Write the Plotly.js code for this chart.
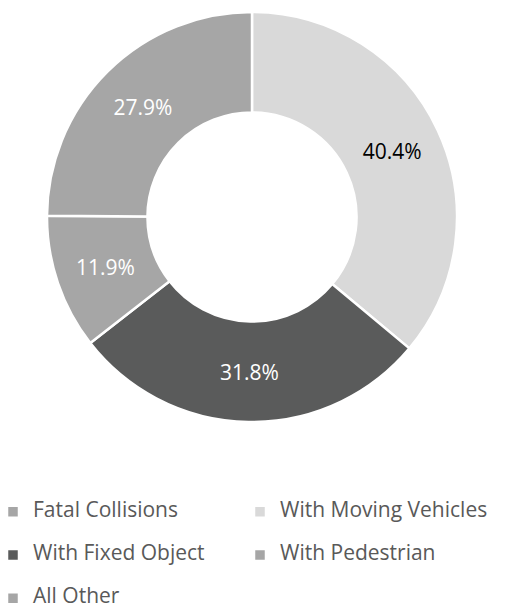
<!DOCTYPE html>
<html>
<head>
<meta charset="utf-8">
<script src="https://cdn.plot.ly/plotly-3.0.1.min.js"></script>
<style>html,body{margin:0;padding:0;background:#fff;}#chart{width:510px;height:610px;}</style>
</head>
<body>
<div id="chart"></div>
<script>
const categories = ["Fatal Collisions", "With Moving Vehicles", "With Fixed Object", "With Pedestrian", "All Other"];
const values = [0, 40.4, 31.8, 11.9, 27.9];
const sliceColors = ["#a6a6a6", "#d9d9d9", "#5a5b5b", "#a6a6a6", "#a6a6a6"];
const textColors = ["#ffffff", "#000000", "#ffffff", "#ffffff", "#ffffff"];

const FONT = "Open Sans, sans-serif";
const legendLabels = categories.map(c => '<span style="font-size:21px;baseline-shift:7px">' + c + '</span>');

const W = 510, H = 610, MB = 125;
const plotH = H - MB;

const data = [{
  type: "pie",
  labels: legendLabels,
  values: values,
  sort: false,
  direction: "clockwise",
  rotation: 0,
  hole: 0.51,
  texttemplate: "%{value}%",
  textposition: "inside",
  insidetextorientation: "horizontal",
  textfont: {family: FONT, size: 21, color: textColors},
  marker: {colors: sliceColors, line: {color: "#ffffff", width: 2.5}},
  domain: {x: [47/W, 457/W], y: [1 - 422/plotH, 1 - 12/plotH]},
  hoverinfo: "none"
}];

const layout = {
  width: W, height: H,
  margin: {l: 0, r: 0, t: 0, b: MB, autoexpand: false},
  paper_bgcolor: "#ffffff",
  showlegend: true,
  font: {family: FONT, color: "#595959"},
  legend: {
    orientation: "h",
    x: -7/W, xanchor: "left",
    y: 0, yanchor: "top",
    entrywidth: 202, entrywidthmode: "pixels",
    font: {family: FONT, size: 31, color: "#595959"},
    traceorder: "normal"
  }
};

Plotly.newPlot("chart", data, layout, {displayModeBar: false, staticPlot: true});
</script>
</body>
</html>
